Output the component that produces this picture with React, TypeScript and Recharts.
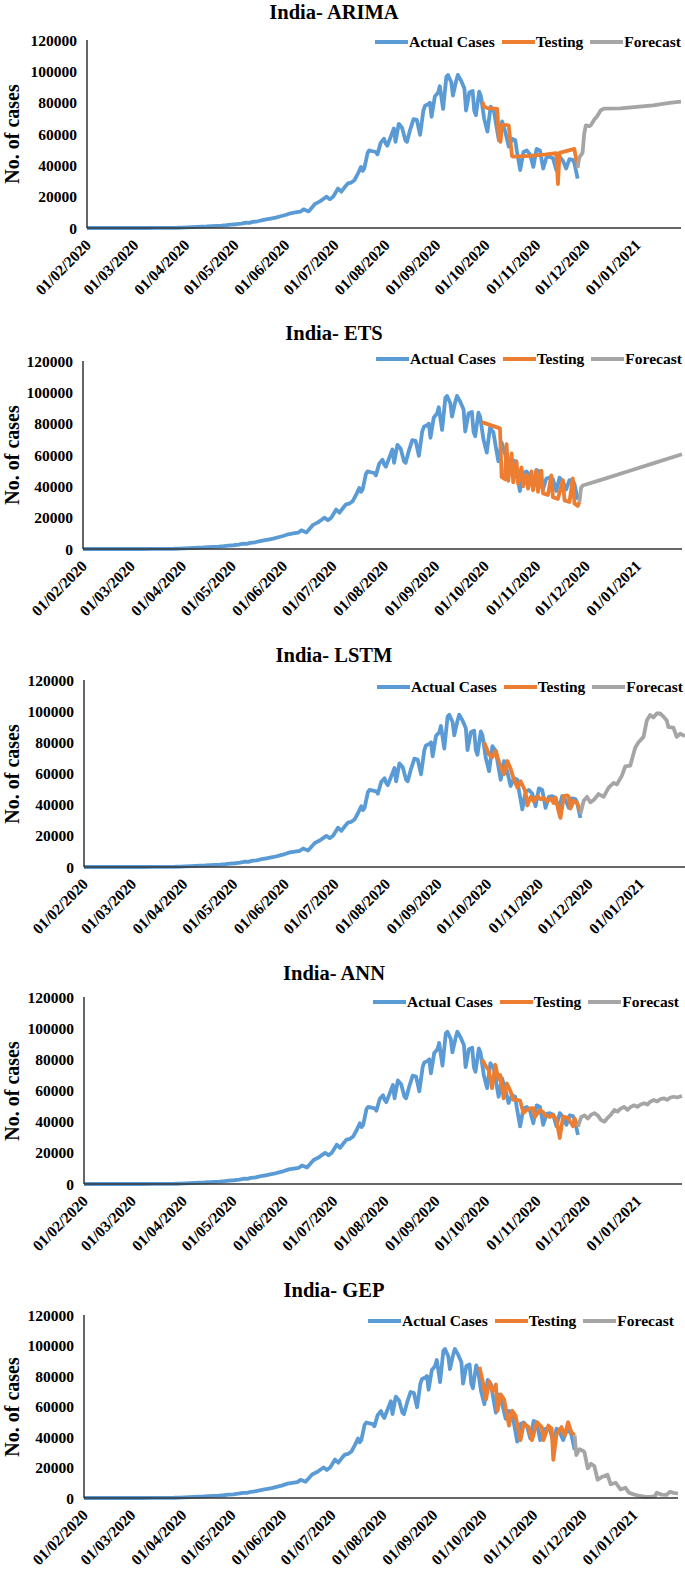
import { LineChart, Line, XAxis, YAxis } from "recharts";

// x values are days counted from 01/02/2020
const monthTicks = [0, 29, 60, 90, 121, 151, 182, 213, 243, 274, 304, 335];
const monthLabels = [
  "01/02/2020", "01/03/2020", "01/04/2020", "01/05/2020", "01/06/2020", "01/07/2020",
  "01/08/2020", "01/09/2020", "01/10/2020", "01/11/2020", "01/12/2020", "01/01/2021",
];
const yTicks = [0, 20000, 40000, 60000, 80000, 100000, 120000];
const seriesNames = ["Actual Cases", "Testing", "Forecast"];
const seriesColors = ["#5B9BD5", "#ED7D31", "#A5A5A5"];
const modelNames = ["ARIMA", "ETS", "LSTM", "ANN", "GEP"];

const actualCases: [number, number][] = [
  [0, 0], [8, 0], [16, 0], [24, 0], [30, 3], [36, 10], [42, 30], [48, 80], [52, 100], [55, 150],
  [58, 300], [61, 450], [64, 550], [67, 700], [70, 900], [73, 1000], [76, 1200], [79, 1400],
  [82, 1550], [85, 1800], [88, 2200], [91, 2400], [94, 2800], [97, 3400], [99, 3300], [101, 3900],
  [104, 4300], [107, 5000], [110, 5600], [112, 6000], [115, 6600], [118, 7500], [121, 8300],
  [124, 9400], [127, 9900], [130, 10400], [132, 11900], [135, 10600], [137, 13000], [139, 15400],
  [142, 17000], [144, 18500], [146, 20000], [148, 18400], [150, 20000], [153, 25200], [155, 23200],
  [157, 26000], [159, 28500], [161, 29000], [163, 30500], [165, 34500], [167, 39000], [168, 36500],
  [169, 38000], [171, 48000], [172, 49500], [174, 49000], [176, 48500], [177, 47000], [179, 54500],
  [181, 57000], [182, 54000], [183, 52500], [185, 58000], [187, 63500], [188, 55000], [190, 66500],
  [192, 64000], [194, 56000], [195, 55000], [197, 63000], [199, 69500], [201, 69000], [203, 59500],
  [205, 75000], [206, 78000], [208, 79000], [209, 80000], [210, 71000], [212, 84000], [214, 86500],
  [215, 90500], [217, 76000], [219, 96500], [220, 97700], [222, 93000], [223, 84500], [225, 94000],
  [226, 97700], [228, 94000], [230, 89000], [231, 75000], [233, 86500], [235, 87500], [236, 75000],
  [237, 72000], [239, 87000], [240, 84500], [242, 70000], [244, 61500], [246, 77500], [248, 74500],
  [250, 62000], [251, 56000], [253, 68000], [255, 61000], [257, 52000], [259, 57000], [261, 56000],
  [262, 49000], [264, 37000], [266, 48500], [268, 49500], [270, 47000], [272, 39000], [274, 50500],
  [276, 49500], [278, 38000], [280, 45000], [282, 45500], [284, 44500], [286, 37000], [288, 45500],
  [290, 43000], [292, 38000], [294, 44000], [296, 43500], [297, 41500], [299, 31500],
];

const arimaTesting: [number, number][] = [
  [241, 80500], [242, 77500], [244, 76500], [250, 76000], [251, 57000], [252, 55000], [253, 66000],
  [257, 65500], [259, 46000], [260, 45500], [270, 46000], [280, 47000], [286, 47800], [287, 28000],
  [288, 48000], [297, 50500], [299, 38500],
];
const arimaForecast: [number, number][] = [
  [299, 38500], [300, 45000], [302, 48000], [303, 60000], [304, 65500], [306, 65000], [307, 65500],
  [309, 69000], [311, 71500], [313, 75000], [315, 76200], [325, 76300], [335, 77300], [345, 78300],
  [355, 79800], [362, 80700],
];

const etsTesting: [number, number][] = [
  [241, 81000], [252, 77000], [253, 46000], [255, 44500], [256, 67000], [257, 43500], [259, 61000],
  [260, 42500], [262, 56000], [263, 41500], [265, 52000], [266, 40000], [268, 47500], [269, 38500],
  [271, 49500], [272, 37500], [274, 50000], [275, 36500], [277, 50000], [278, 35500], [281, 34500],
  [283, 47000], [284, 33000], [287, 32000], [290, 44000], [291, 31000], [294, 30000], [296, 45000],
  [297, 29000], [299, 27500], [300, 30000],
];
const etsForecast: [number, number][] = [
  [300, 30000], [301, 39000], [302, 40500], [315, 44800], [330, 49800], [345, 54800], [362, 60500],
];

const lstmTesting: [number, number][] = [
  [241, 80000], [242, 77500], [244, 72000], [246, 70500], [248, 74500], [250, 67500], [252, 62000],
  [253, 59500], [255, 68000], [257, 63000], [259, 56000], [261, 51000], [263, 55000], [265, 50500],
  [266, 48000], [267, 39500], [269, 45000], [271, 42000], [273, 45500], [275, 43500], [277, 44500],
  [279, 42000], [281, 44000], [283, 41000], [284, 44500], [286, 35000], [287, 31500], [289, 45500],
  [291, 46000], [292, 45000], [293, 37500], [295, 42500], [297, 41000], [299, 36000],
];
const lstmForecast: [number, number][] = [
  [299, 34000], [301, 42500], [303, 45000], [305, 41500], [307, 43000], [310, 46800], [313, 45000],
  [316, 51000], [319, 54000], [321, 53000], [324, 58600], [326, 64500], [329, 65000], [332, 76500],
  [334, 80000], [337, 83500], [339, 94000], [341, 97500], [343, 96000], [345, 98500], [347, 98500],
  [349, 96500], [351, 94000], [352, 89800], [355, 89500], [357, 83500], [359, 85500], [362, 84000],
];

const annTesting: [number, number][] = [
  [241, 80000], [243, 76000], [245, 73000], [247, 61500], [249, 76500], [251, 67000], [252, 70000],
  [254, 55000], [256, 64500], [258, 60000], [260, 54000], [262, 54000], [264, 53500], [266, 45500],
  [268, 47500], [270, 48500], [272, 48600], [273, 43000], [276, 47500], [278, 46000], [279, 44200],
  [282, 43000], [284, 44500], [286, 41000], [288, 29500], [290, 43200], [293, 42500], [294, 40500],
  [296, 37000], [297, 42000], [299, 36800],
];
const annForecast: [number, number][] = [
  [299, 36800], [301, 43000], [303, 44000], [305, 42000], [307, 44500], [309, 45500], [311, 44000],
  [313, 41000], [315, 40000], [317, 42500], [319, 44500], [321, 47500], [323, 46500], [325, 48500],
  [327, 49500], [329, 47500], [331, 49500], [333, 50500], [335, 49500], [337, 51000], [339, 51800],
  [341, 51000], [343, 53000], [345, 53900], [347, 53000], [349, 54500], [351, 55000], [353, 54000],
  [355, 55500], [357, 56000], [359, 55500], [362, 56500],
];

const gepTesting: [number, number][] = [
  [241, 86000], [243, 76500], [245, 64700], [247, 76500], [249, 70000], [251, 74400], [252, 57200],
  [254, 67900], [256, 64700], [259, 47500], [261, 57200], [263, 53900], [266, 37900], [268, 48600],
  [271, 46500], [273, 37900], [276, 49700], [279, 46500], [280, 37900], [283, 47500], [285, 45500],
  [286, 25000], [288, 42100], [291, 46500], [293, 41000], [295, 49700], [297, 43200], [299, 41100],
];
const gepForecast: [number, number][] = [
  [299, 41100], [300, 28200], [302, 32000], [304, 31000], [305, 30000], [307, 19500], [309, 22400],
  [311, 21000], [313, 12000], [316, 14000], [319, 15300], [321, 9000], [324, 10000], [327, 5600],
  [330, 6700], [332, 3500], [335, 2400], [338, 1500], [342, 800], [346, 900], [348, 1300],
  [349, 3400], [352, 2200], [355, 2000], [357, 4000], [360, 3200], [362, 3000],
];

const testingSets = [arimaTesting, etsTesting, lstmTesting, annTesting, gepTesting];
const forecastSets = [arimaForecast, etsForecast, lstmForecast, annForecast, gepForecast];

// layout of each panel on the page (px)
const panelLayout = [
  { top: 0, plotTop: 40, plotBottom: 228, axisX: 87, right: 681, titleY: 12, legendX: 375, legendY: 42 },
  { top: 320, plotTop: 361, plotBottom: 549, axisX: 83, right: 682, titleY: 333, legendX: 376, legendY: 359 },
  { top: 640, plotTop: 680, plotBottom: 867, axisX: 84, right: 685, titleY: 655, legendX: 377, legendY: 687 },
  { top: 957, plotTop: 997, plotBottom: 1184, axisX: 84, right: 682, titleY: 973, legendX: 373, legendY: 1002 },
  { top: 1276, plotTop: 1315, plotBottom: 1498, axisX: 84, right: 678, titleY: 1290, legendX: 368, legendY: 1321 },
];

const FONT = "'Liberation Serif', 'Times New Roman', serif";
const X_AXIS_H = 71;

const toRows = (pairs: [number, number][]) => pairs.map(([day, value]) => ({ day, value }));

function MonthTick({ x, y, payload }: any) {
  const label = monthLabels[monthTicks.indexOf(payload.value)];
  const tx = x + 5;
  const ty = y + 10;
  return (
    <text
      x={tx}
      y={ty}
      transform={`rotate(-45, ${tx}, ${ty})`}
      textAnchor="end"
      fontFamily={FONT}
      fontWeight="bold"
      fontSize={15.5}
      fill="#000"
    >
      {label}
    </text>
  );
}

function Panel({ index }: { index: number }) {
  const p = panelLayout[index];
  const height = p.plotBottom - p.top + X_AXIS_H;
  const series = [toRows(actualCases), toRows(testingSets[index]), toRows(forecastSets[index])];
  return (
    <div style={{ position: "absolute", left: 0, top: p.top, width: 685, height }}>
      <div
        style={{
          position: "absolute",
          left: 0,
          width: 668,
          top: p.titleY - p.top - 12,
          textAlign: "center",
          fontFamily: FONT,
          fontWeight: "bold",
          fontSize: 20.5,
          lineHeight: "24px",
        }}
      >
        India- {modelNames[index]}
      </div>
      <div
        style={{
          position: "absolute",
          left: 12,
          top: (p.plotTop + p.plotBottom) / 2 - p.top,
          transform: "translate(-50%, -50%) rotate(-90deg)",
          whiteSpace: "nowrap",
          fontFamily: FONT,
          fontWeight: "bold",
          fontSize: 20,
        }}
      >
        No. of cases
      </div>
      <LineChart
        width={685}
        height={height}
        margin={{ top: p.plotTop - p.top, right: 685 - p.right, left: 0, bottom: 0 }}
        style={{ position: "absolute", left: 0, top: 0, overflow: "visible" }}
      >
        <XAxis
          type="number"
          dataKey="day"
          domain={[0, 362]}
          ticks={monthTicks}
          interval={0}
          tickLine={false}
          tick={<MonthTick />}
          height={X_AXIS_H}
          axisLine={{ stroke: "#333", strokeWidth: 1.5 }}
          allowDuplicatedCategory={false}
        />
        <YAxis
          type="number"
          domain={[0, 120000]}
          ticks={yTicks}
          width={p.axisX}
          tickLine={false}
          tickMargin={4}
          axisLine={{ stroke: "#333", strokeWidth: 1.5 }}
          tick={{ fontFamily: FONT, fontWeight: "bold", fontSize: 15.5, fill: "#000" }}
        />
        {series.map((rows, i) => (
          <Line
            key={seriesNames[i]}
            data={rows}
            dataKey="value"
            name={seriesNames[i]}
            type="linear"
            stroke={seriesColors[i]}
            strokeWidth={3.8}
            strokeLinejoin="round"
            dot={false}
            activeDot={false}
            isAnimationActive={false}
          />
        ))}
      </LineChart>
      <div
        style={{
          position: "absolute",
          left: p.legendX,
          top: p.legendY - p.top - 10,
          height: 20,
          display: "flex",
          alignItems: "center",
          fontFamily: FONT,
          fontWeight: "bold",
          fontSize: 15.5,
          whiteSpace: "nowrap",
        }}
      >
        {seriesNames.map((name, i) => (
          <div key={name} style={{ display: "flex", alignItems: "center", marginRight: 7 }}>
            <span style={{ display: "inline-block", width: 33, height: 4, background: seriesColors[i], marginRight: 1 }} />
            <span>{name}</span>
          </div>
        ))}
      </div>
    </div>
  );
}

export default function App() {
  return (
    <div style={{ position: "absolute", left: 0, top: 0, width: 685, height: 1569, background: "#fff" }}>
      {modelNames.map((_, i) => (
        <Panel key={i} index={i} />
      ))}
    </div>
  );
}
